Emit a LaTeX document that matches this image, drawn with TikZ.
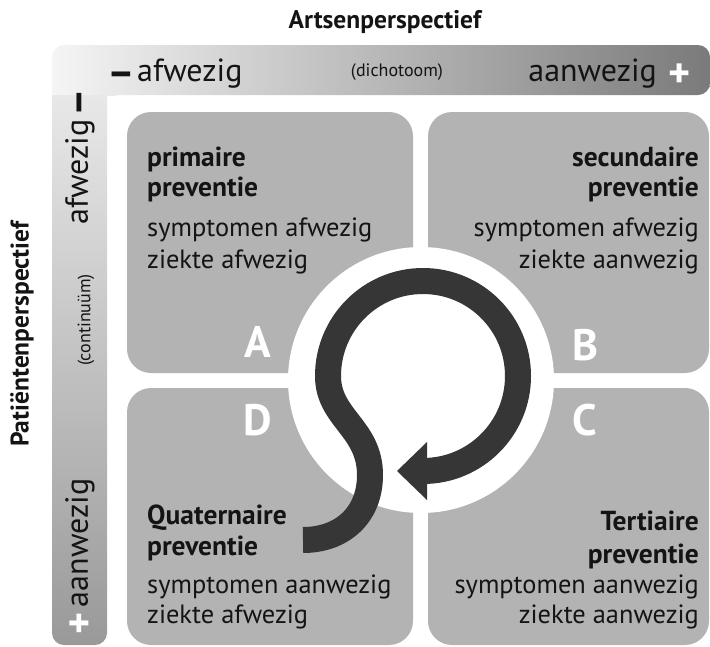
\documentclass[tikz,border=0pt]{standalone}
\usepackage{fontspec}
\setmainfont{PT Sans}
\definecolor{quad}{HTML}{B3B3B3}
\definecolor{arrowc}{HTML}{363636}
\definecolor{txt}{HTML}{141414}
\begin{document}
\begin{tikzpicture}[x=1pt,y=1pt,
  quadbox/.style={fill=quad,rounded corners=24},
  headtxt/.style={inner sep=0,font=\fontsize{27.5}{30}\bfseries\selectfont,text=txt},
  bodytxt/.style={inner sep=0,font=\fontsize{26.4}{30}\selectfont,text=txt},
  bartxt/.style={inner sep=0,font=\fontsize{32}{36}\selectfont,text=txt},
  smalltxt/.style={inner sep=0,font=\fontsize{18}{20}\selectfont,text=txt},
  bigletter/.style={inner sep=0,font=\fontsize{44}{50}\bfseries\selectfont,text=white},
  signtxt/.style={inner sep=0,font=\fontsize{42}{44}\bfseries\selectfont},
  titletxt/.style={inner sep=0,font=\fontsize{25.5}{28}\bfseries\selectfont,text=txt}]
\useasboundingbox (0,0) rectangle (710,-646);
% L-shaped bar
\begin{scope}
\clip[rounded corners=12] (52,-645) -- (52,-45) -- (710,-45) -- (710,-95) -- (107,-95) -- (107,-645) -- cycle;
\shade[left color=black!4, right color=black!52] (52,-45) rectangle (710,-95);
\shade[top color=black!9, bottom color=black!40] (52,-95) rectangle (107,-646);
\end{scope}
% quadrants
\fill[quadbox] (127,-112) rectangle (413,-373);
\fill[quadbox] (428,-112) rectangle (709,-373);
\fill[quadbox] (127,-388) rectangle (413,-645);
\fill[quadbox] (428,-388) rectangle (709,-645);
% white circle
\fill[white] (421,-380) circle[radius=133];
% arrow
\draw[line width=26, arrowc] (303,-540) .. controls (342,-540) and (370,-515) .. (370,-475)
  .. controls (370,-428) and (328,-418) .. (328,-376)
  arc[start angle=180, end angle=-90, radius=95] -- (427,-471);
\fill[arrowc] (427,-442) -- (397,-471) -- (427,-500) -- cycle;
% titles
\node[titletxt] (title) at (385,-22) {Artsenperspectief};
\node[titletxt, rotate=90] (ptitle) at (22,-334) {Patiëntenperspectief};
% top bar labels
\node[signtxt, text=txt, anchor=base] (tminus) at (121,-86) {–};
\node[bartxt, anchor=base west] (tafw) at (137,-81) {afwezig};
\node[smalltxt] (tdich) at (397,-72) {(dichotoom)};
\node[bartxt, anchor=base east] (taanw) at (657,-81) {aanwezig};
\node[signtxt, text=white] (tplus) at (680,-76) {+};
% left bar labels
\node[signtxt, text=txt, rotate=90, anchor=base] (lminus) at (91,-103) {–};
\node[bartxt, rotate=90] (lafw) at (80,-172) {afwezig};
\node[smalltxt, rotate=90] (lcont) at (86,-320) {(continuüm)};
\node[bartxt, rotate=90] (laanw) at (80,-543) {aanwezig};
\node[signtxt, text=white, rotate=90] (lplus) at (82,-623) {+};
% quadrant letters
\node[bigletter] (la) at (258,-342) {A};
\node[bigletter] (lb) at (585,-345) {B};
\node[bigletter] (ld) at (258,-420) {D};
\node[bigletter] (lc) at (585,-420) {C};
% A
\node[headtxt, anchor=base west] (a1) at (147,-166) {primaire};
\node[headtxt, anchor=base west] (a2) at (147,-196) {preventie};
\node[bodytxt, anchor=base west] (a3) at (147,-236) {symptomen afwezig};
\node[bodytxt, anchor=base west] (a4) at (147,-268) {ziekte afwezig};
% B
\node[headtxt, anchor=base east] (b1) at (699,-166) {secundaire};
\node[headtxt, anchor=base east] (b2) at (699,-196) {preventie};
\node[bodytxt, anchor=base east] (b3) at (699,-236) {symptomen afwezig};
\node[bodytxt, anchor=base east] (b4) at (699,-268) {ziekte aanwezig};
% D
\node[headtxt, anchor=base west] (d1) at (147,-524) {Quaternaire};
\node[headtxt, anchor=base west] (d2) at (147,-555) {preventie};
\node[bodytxt, anchor=base west] (d3) at (147,-593) {symptomen aanwezig};
\node[bodytxt, anchor=base west] (d4) at (147,-623) {ziekte afwezig};
% C
\node[headtxt, anchor=base east] (c1) at (699,-530) {Tertiaire};
\node[headtxt, anchor=base east] (c2) at (699,-563) {preventie};
\node[bodytxt, anchor=base east] (c3) at (699,-593) {symptomen aanwezig};
\node[bodytxt, anchor=base east] (c4) at (699,-623) {ziekte aanwezig};
\end{tikzpicture}
\end{document}
